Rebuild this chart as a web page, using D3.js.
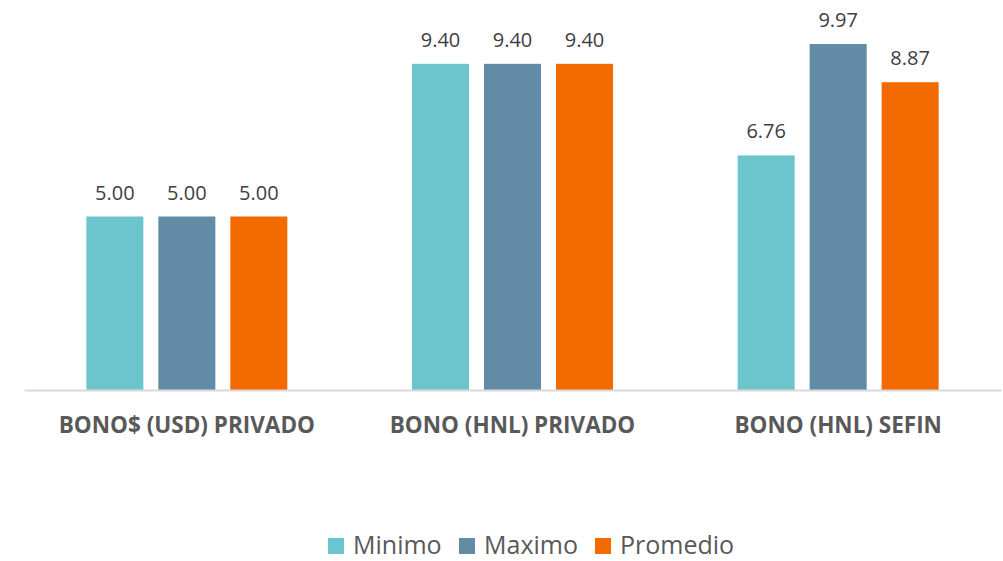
<!DOCTYPE html>
<html><head><meta charset="utf-8">
<script src="https://cdn.jsdelivr.net/npm/d3@7"></script>
<style>body{margin:0;background:#fff;font-family:"Open Sans",sans-serif;}</style>
</head><body><svg id="c" width="1003" height="561"></svg>
<script>
const categories = ["BONO$ (USD) PRIVADO", "BONO (HNL) PRIVADO", "BONO (HNL) SEFIN"];
const seriesNames = ["Minimo", "Maximo", "Promedio"];
const minimo = [5.00, 9.40, 6.76];
const maximo = [5.00, 9.40, 9.97];
const promedio = [5.00, 9.40, 8.87];
const colors = ["#6cc5cc", "#628ba5", "#f26a00"];

const seriesVals = [minimo, maximo, promedio];
const svg = d3.select("#c");
const x0 = d3.scaleBand().domain(categories).range([24, 1001]).paddingInner(0).paddingOuter(0);
const x1 = d3.scaleBand().domain(seriesNames).range([0, x0.bandwidth()]).paddingInner(0.208).paddingOuter(0.866);
const y = d3.scaleLinear().domain([0, 10]).range([390, 43]);

const g = svg.append("g");
categories.forEach((c, ci) => {
  seriesNames.forEach((s, si) => {
    const v = seriesVals[si][ci];
    g.append("rect").attr("x", x0(c) + x1(s)).attr("y", y(v))
      .attr("width", x1.bandwidth()).attr("height", y(0) - y(v)).attr("fill", colors[si]);
    g.append("text").attr("x", x0(c) + x1(s) + x1.bandwidth() / 2).attr("y", y(v) - 17)
      .attr("text-anchor", "middle").attr("font-size", 20).attr("fill", "#404040").text(v.toFixed(2));
  });
});

const axis = d3.axisBottom(x0).tickSize(0).tickPadding(0);
const ax = svg.append("g").attr("transform", "translate(0,390)").call(axis);
ax.select(".domain").attr("stroke", "#d9d9d9").attr("stroke-width", 2);
ax.selectAll("text").attr("dy", 0).attr("y", 43).attr("font-size", 22.5).attr("font-weight", "bold")
  .attr("fill", "#595959").attr("font-family", "Open Sans");

const leg = svg.append("g");
const legX = [328, 459, 595];
seriesNames.forEach((s, i) => {
  leg.append("rect").attr("x", legX[i]).attr("y", 538).attr("width", 16).attr("height", 16).attr("fill", colors[i]);
  leg.append("text").attr("x", legX[i] + 25).attr("y", 554).attr("font-size", 25).attr("fill", "#595959").text(s);
});
</script></body></html>
